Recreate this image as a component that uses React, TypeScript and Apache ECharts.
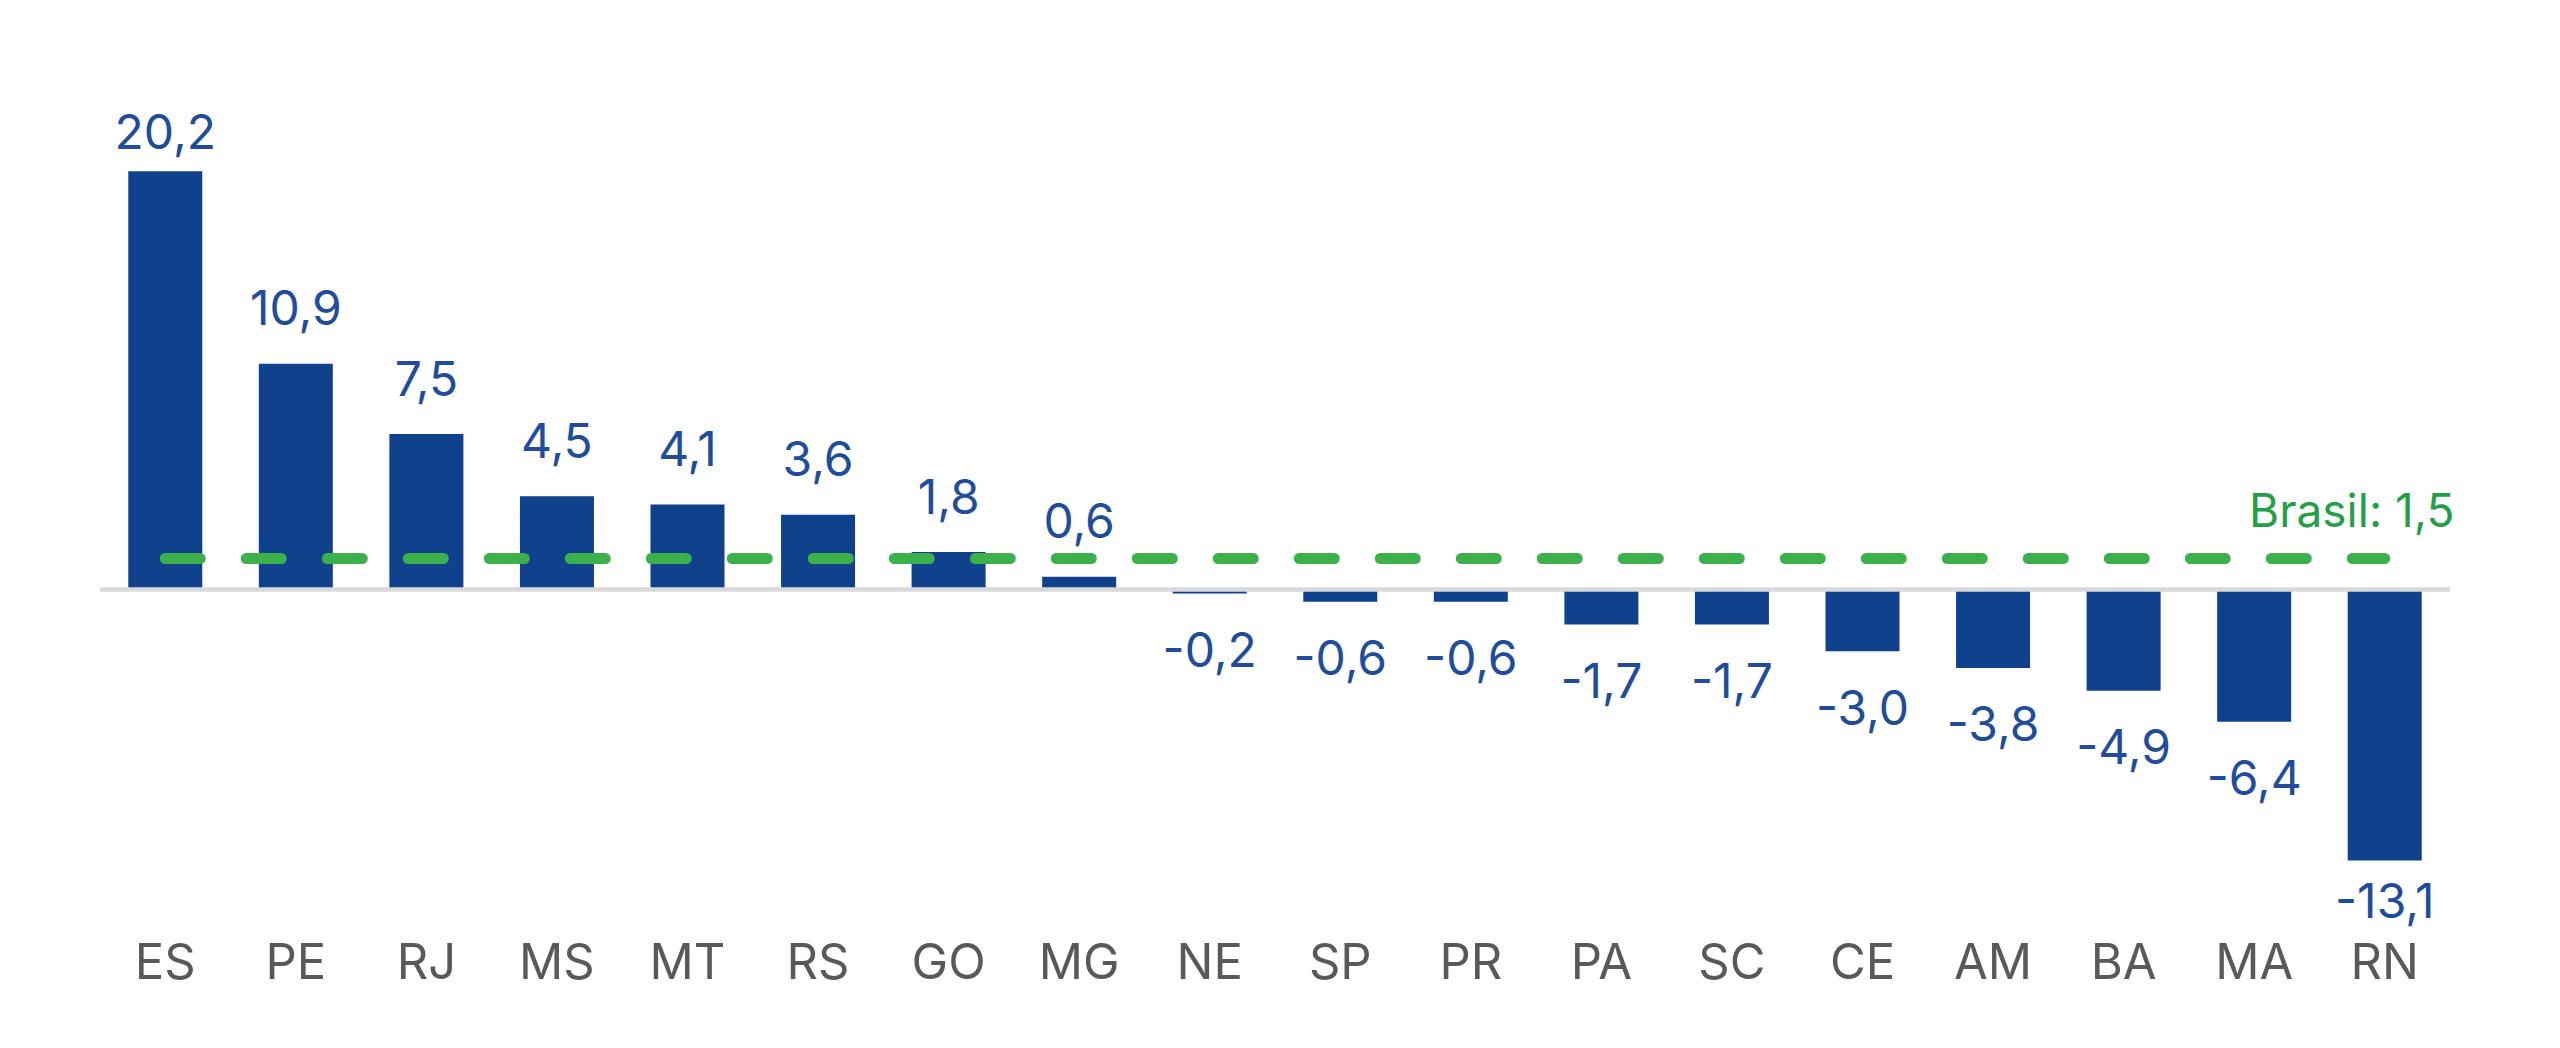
import React, { useEffect, useRef } from "react";
import * as echarts from "echarts";

const categories = ["ES", "PE", "RJ", "MS", "MT", "RS", "GO", "MG", "NE", "SP", "PR", "PA", "SC", "CE", "AM", "BA", "MA", "RN"];
const values = [20.2, 10.9, 7.5, 4.5, 4.1, 3.6, 1.8, 0.6, -0.2, -0.6, -0.6, -1.7, -1.7, -3.0, -3.8, -4.9, -6.4, -13.1];
const brasilValue = 1.5;
const brasilLabel = "Brasil";

const BAR = "#0f418d";
const LABEL_BLUE = "#1f4d9c";
const GREEN = "#3cb04b";
const GREEN_TEXT = "#23a047";
const FONT = "Inter, Roboto, sans-serif";

const fmt = (v: number) => v.toFixed(1).replace(".", ",");

export default function App() {
  const ref = useRef<HTMLDivElement>(null);
  useEffect(() => {
    if (!ref.current) return;
    const chart = echarts.init(ref.current, null, { renderer: "svg" });
    const maxV = Math.max(...values);
    const minV = Math.min(...values);
    const data = values.map((v) => ({
      value: v,
      label: {
        position: v >= 0 ? "top" : "bottom",
        distance: v === maxV || v === minV ? 16 : 32,
      },
    }));
    chart.setOption({
      animation: false,
      backgroundColor: "#ffffff",
      grid: { left: 100, right: 110, top: 134, bottom: 169, containLabel: false },
      xAxis: {
        type: "category",
        data: categories,
        axisLine: { show: false, onZero: false },
        axisTick: { show: false },
        axisLabel: { color: "#595959", fontSize: 49, fontFamily: FONT, margin: 58 },
        splitLine: { show: false },
      },
      yAxis: {
        type: "value",
        min: -14,
        max: 22,
        show: false,
        splitLine: { show: false },
      },
      series: [
        {
          type: "bar",
          data,
          barWidth: 74,
          itemStyle: { color: BAR },
          label: {
            show: true,
            color: LABEL_BLUE,
            fontSize: 48,
            fontFamily: FONT,
            distance: 32,
            formatter: (p: any) => fmt(p.value),
          },
          markLine: {
            silent: true,
            symbol: "none",
            label: { show: false },
            data: [
              {
                yAxis: 0,
                lineStyle: { color: "#d9d9d9", width: 4.5, type: "solid" },
              },
              [
                {
                  coord: [categories[0], brasilValue],
                  lineStyle: { color: GREEN, width: 11, type: [35, 46], cap: "round" },
                },
                { coord: [categories[categories.length - 1], brasilValue] },
              ],
            ],
          },
          markPoint: {
            silent: true,
            symbol: "circle",
            symbolSize: 1,
            itemStyle: { color: "rgba(0,0,0,0)" },
            data: [
              {
                coord: [categories[categories.length - 1], brasilValue],
                label: {
                  show: true,
                  position: "top",
                  distance: 25,
                  offset: [-33, 0],
                  color: GREEN_TEXT,
                  fontSize: 46,
                  fontFamily: FONT,
                  formatter: () => `${brasilLabel}: ${fmt(brasilValue)}`,
                },
              },
            ],
          },
        },
      ],
    });
    return () => chart.dispose();
  }, []);
  return (
    <div
      ref={ref}
      style={{ position: "fixed", left: 0, top: 0, width: 2560, height: 1048, background: "#fff" }}
    />
  );
}
